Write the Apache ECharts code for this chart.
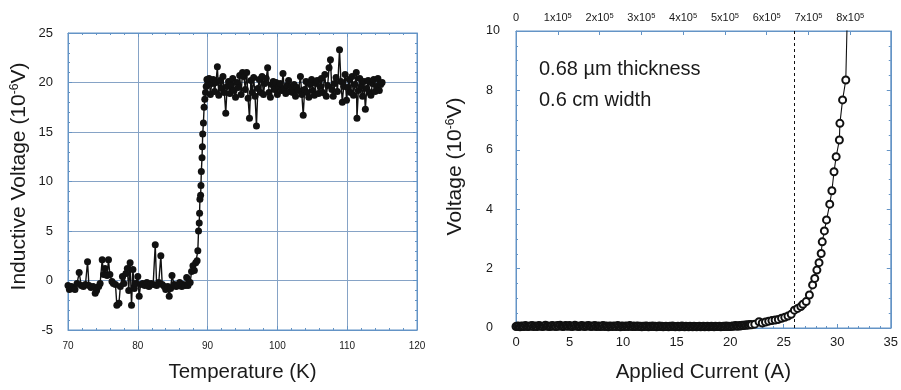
<!DOCTYPE html>
<html>
<head>
<meta charset="utf-8">
<script src="https://cdn.jsdelivr.net/npm/echarts@6/dist/echarts.min.js"></script>
<style>
  html, body { margin: 0; padding: 0; background: #fff; }
  #chart { width: 901px; height: 390px; }
</style>
</head>
<body>
<div id="chart"></div>
<script>
// left panel: inductive voltage vs temperature
const tempK = [
  70.0,70.2,70.5,70.8,71.0,71.3,71.6,71.9,72.2,72.5,
  72.8,73.0,73.3,73.6,73.9,74.1,74.4,74.6,74.9,75.1,
  75.3,75.6,75.8,76.0,76.3,76.5,76.8,77.0,77.3,77.5,
  77.8,78.0,78.3,78.5,78.7,78.9,79.1,79.3,79.5,79.7,
  80.0,80.2,80.4,80.7,81.0,81.3,81.6,81.9,82.2,82.5,
  82.7,83.0,83.3,83.5,83.8,84.0,84.3,84.5,84.7,84.9,
  85.2,85.5,85.8,86.0,86.3,86.5,86.8,87.0,87.2,87.5,
  87.7,87.9,88.1,88.3,88.5,88.6,88.7,88.8,88.85,88.9,
  89.0,89.05,89.1,89.2,89.25,89.3,89.4,89.5,89.6,89.7,
  89.8,89.9,
  90.0,90.2,90.4,90.6,90.8,91.0,91.2,91.4,91.6,91.8,
  92.0,92.2,92.4,92.6,92.8,93.0,93.2,93.4,93.6,93.8,
  94.0,94.2,94.4,94.6,94.8,95.0,95.2,95.4,95.6,95.8,
  96.0,96.2,96.4,96.6,96.8,97.0,97.2,97.4,97.6,97.8,
  98.0,98.2,98.4,98.6,98.8,99.0,99.2,99.4,99.6,99.8,
  100.0,100.2,100.4,100.6,100.8,101.0,101.2,101.4,101.6,101.8,
  102.0,102.2,102.4,102.6,102.8,103.0,103.3,103.5,103.7,103.9,
  104.1,104.3,104.5,104.7,104.9,105.1,105.3,105.5,105.7,105.9,
  106.1,106.3,106.5,106.8,107.0,107.2,107.4,107.6,107.8,108.0,
  108.2,108.4,108.6,108.9,109.1,109.3,109.5,109.7,109.9,110.1,
  110.3,110.5,110.7,110.9,111.1,111.3,111.4,111.6,111.8,112.0,
  112.2,112.4,112.6,112.8,113.0,113.2,113.4,113.6,113.8,114.0,
  114.2,114.4,114.6,114.8,115.0
];
const inductiveV = [
  -0.5,-0.9,-0.6,-0.8,-0.9,-0.3,0.8,-0.5,-0.6,-0.4,
  1.9,-0.5,-0.7,-0.6,-1.3,-1.0,-0.6,-0.3,2.1,0.6,
  1.2,0.5,2.1,0.6,-0.1,-0.3,-0.4,-2.5,-2.3,-0.6,
  0.4,-0.3,0.7,1.2,-1.0,1.8,-2.5,1.1,-0.8,-0.3,
  0.4,-1.6,-0.4,-0.3,-0.5,-0.2,-0.6,-0.3,-0.4,3.6,
  -0.5,-0.2,2.5,-0.4,-0.6,-0.9,-0.6,-1.6,-0.8,0.5,
  -0.4,-0.6,-0.5,-0.2,-0.6,-0.4,-0.5,0.3,-0.5,-0.2,
  0.9,1.5,1.0,1.8,2.0,3.0,5.0,5.8,6.8,8.2,
  8.6,9.6,11.0,12.4,13.5,14.8,15.9,17.5,18.3,19.0,
  19.6,20.3,
  19.8,20.4,18.8,19.9,20.3,19.1,20.0,21.6,18.7,20.2,
  19.4,20.6,19.0,16.9,19.6,20.1,18.9,19.7,20.4,19.2,
  18.5,20.0,19.5,20.7,18.8,21.0,20.6,19.3,21.0,18.4,
  16.4,20.2,19.0,20.5,18.6,15.6,19.4,20.3,19.0,20.6,
  18.8,19.9,20.4,21.5,19.0,18.5,19.8,20.1,19.3,20.0,
  18.8,19.6,19.9,19.2,20.9,19.4,18.9,19.7,20.2,19.1,
  19.6,19.0,19.8,18.6,19.5,19.2,20.6,18.8,16.7,19.3,
  20.1,19.0,18.5,19.8,20.3,19.2,18.7,19.9,20.2,18.9,
  19.6,20.4,19.0,20.8,18.6,19.7,21.5,22.3,19.3,18.6,
  19.9,20.5,19.1,23.3,20.1,18.0,19.6,20.8,18.2,19.5,
  20.3,19.0,20.6,18.7,19.8,21.0,16.4,19.2,20.4,19.6,
  18.6,20.1,17.3,19.4,20.2,19.0,18.7,19.9,20.3,19.1,
  19.6,20.4,19.2,19.8,20.0
];

// right panel: voltage vs applied current
const currentA = [
  0,0.125,0.25,0.375,0.5,0.625,0.75,0.875,
  1,1.125,1.25,1.375,1.5,1.625,1.75,1.875,
  2,2.125,2.25,2.375,2.5,2.625,2.75,2.875,
  3,3.125,3.25,3.375,3.5,3.625,3.75,3.875,
  4,4.125,4.25,4.375,4.5,4.625,4.75,4.875,
  5,5.125,5.25,5.375,5.5,5.625,5.75,5.875,
  6,6.125,6.25,6.375,6.5,6.625,6.75,6.875,
  7,7.125,7.25,7.375,7.5,7.625,7.75,7.875,
  8,8.125,8.25,8.375,8.5,8.625,8.75,8.875,
  9,9.125,9.25,9.375,9.5,9.625,9.75,9.875,
  10,10.125,10.25,10.375,10.5,10.625,10.75,10.875,
  11,11.125,11.25,11.375,11.5,11.625,11.75,11.875,
  12,12.125,12.25,12.375,12.5,12.625,12.75,12.875,
  13,13.125,13.25,13.375,13.5,13.625,13.75,13.875,
  14,14.125,14.25,14.375,14.5,14.625,14.75,14.875,
  15,15.125,15.25,15.375,15.5,15.625,15.75,15.875,
  16,16.125,16.25,16.375,16.5,16.625,16.75,16.875,
  17,17.125,17.25,17.375,17.5,17.625,17.75,17.875,
  18,18.125,18.25,18.375,18.5,18.625,18.75,18.875,
  19,19.125,19.25,19.375,19.5,19.625,19.75,19.875,
  20,20.125,20.25,20.375,20.5,20.625,20.75,20.875,
  21,21.125,21.25,21.375,21.5,21.625,21.75,21.875,
  22,22.3,
  22.7,23,23.3,23.6,23.9,24.2,24.5,24.8,25.1,25.4,
  25.7,26,26.3,26.6,26.8,27.1,27.4,27.7,27.9,28.1,
  28.3,28.5,28.6,28.8,29,29.3,29.5,29.7,29.9,30.2,
  30.25,30.5,30.8,31.0
];
const voltageV = [
  0.05,0.07,0.06,0.04,0.07,0.06,0.05,0.08,
  0.06,0.05,0.07,0.06,0.08,0.05,0.07,0.06,
  0.05,0.08,0.07,0.06,0.05,0.07,0.09,0.06,
  0.07,0.05,0.06,0.08,0.06,0.07,0.05,0.08,
  0.06,0.09,0.07,0.05,0.06,0.08,0.07,0.06,
  0.08,0.06,0.05,0.07,0.09,0.06,0.07,0.05,
  0.06,0.08,0.07,0.05,0.07,0.06,0.08,0.07,
  0.05,0.07,0.06,0.08,0.05,0.06,0.07,0.05,
  0.06,0.08,0.05,0.07,0.06,0.04,0.07,0.06,
  0.05,0.07,0.06,0.05,0.08,0.06,0.04,0.07,
  0.06,0.05,0.07,0.06,0.05,0.08,0.06,0.05,
  0.07,0.05,0.06,0.07,0.05,0.06,0.04,0.06,
  0.05,0.07,0.06,0.04,0.06,0.05,0.07,0.05,
  0.06,0.04,0.05,0.07,0.05,0.06,0.04,0.05,
  0.06,0.05,0.04,0.06,0.05,0.07,0.05,0.04,
  0.05,0.06,0.04,0.05,0.07,0.05,0.04,0.06,
  0.05,0.04,0.06,0.05,0.04,0.06,0.05,0.04,
  0.05,0.06,0.04,0.05,0.06,0.04,0.05,0.06,
  0.04,0.05,0.06,0.05,0.04,0.06,0.05,0.05,
  0.06,0.04,0.05,0.06,0.05,0.07,0.05,0.06,
  0.05,0.06,0.07,0.06,0.08,0.07,0.06,0.08,
  0.07,0.09,0.08,0.1,0.09,0.11,0.1,0.12,
  0.11,0.13,
  0.21,0.17,0.2,0.23,0.25,0.27,0.29,0.33,0.36,0.4,
  0.46,0.6,0.66,0.72,0.8,0.89,1.11,1.45,1.67,1.95,
  2.2,2.51,2.9,3.27,3.64,4.17,4.62,5.26,5.77,6.33,
  6.89,7.68,8.35,11.5
];
const criticalCurrent = 26;
const densityMax = 897000; // A/cm^2 at 35 A
const notes = ["0.68 µm thickness", "0.6 cm width"];

const FONT = "Liberation Sans";
const BLUE = "#6494c6";
const GRIDC = "#86a3c6";
const INK = "#1a1a1a";

function pairs(xs, ys) {
  return xs.map((x, i) => [x, ys[i]]);
}

// extra axes on the opposite edges, ticks only
const tickOnly = (extra) => Object.assign({
  axisLine: { show: true, onZero: false, lineStyle: { color: BLUE } },
  axisTick: { show: true, inside: true, length: 4, lineStyle: { color: BLUE } },
  minorTick: { show: true, splitNumber: 5, length: 2, lineStyle: { color: BLUE } },
  axisLabel: { show: false },
  splitLine: { show: false }
}, extra);

const supStyle = { fontSize: 12, verticalAlign: "top", color: INK, fontFamily: FONT };

const chart = echarts.init(document.getElementById("chart"));

chart.setOption({
  animation: false,
  backgroundColor: "#fff",
  textStyle: { fontFamily: FONT },
  grid: [
    { left: 68, top: 33, width: 349, height: 297, show: true, borderColor: BLUE, borderWidth: 1 },
    { left: 516, top: 31, width: 376, height: 297, show: true, borderColor: BLUE, borderWidth: 1 }
  ],
  xAxis: [
    {
      gridIndex: 0, type: "value", min: 70, max: 120, interval: 10,
      name: "Temperature (K)", nameLocation: "middle", nameGap: 32,
      nameTextStyle: { fontSize: 20.5, color: INK, fontFamily: FONT },
      axisLine: { onZero: false, lineStyle: { color: BLUE } },
      axisTick: { inside: true, length: 4, lineStyle: { color: BLUE } },
      minorTick: { show: true, splitNumber: 5, length: 2, lineStyle: { color: BLUE } },
      axisLabel: { fontSize: 10, color: INK, margin: 11 },
      splitLine: { show: true, lineStyle: { color: GRIDC, width: 1 } }
    },
    tickOnly({ gridIndex: 0, type: "value", min: 70, max: 120, interval: 10, position: "top" }),
    {
      gridIndex: 1, type: "value", min: 0, max: 35, interval: 5,
      name: "Applied Current (A)", nameLocation: "middle", nameGap: 34,
      nameTextStyle: { fontSize: 20.5, color: INK, fontFamily: FONT },
      axisLine: { onZero: false, lineStyle: { color: BLUE } },
      axisTick: { inside: true, length: 4, lineStyle: { color: BLUE } },
      minorTick: { show: true, splitNumber: 5, length: 2, lineStyle: { color: BLUE } },
      axisLabel: { fontSize: 13, color: INK, margin: 8 },
      splitLine: { show: false }
    },
    {
      gridIndex: 1, type: "value", min: 0, max: densityMax, interval: 100000, position: "top",
      axisLine: { onZero: false, lineStyle: { color: BLUE } },
      axisTick: { inside: true, length: 4, lineStyle: { color: BLUE } },
      splitLine: { show: false },
      axisLabel: {
        show: true, showMaxLabel: false, margin: 8, color: INK, fontSize: 11,
        formatter: (v) => {
          if (v === 0) return "0";
          if (v % 100000 !== 0) return "";
          return (v / 100000) + "x10{s|5}";
        },
        rich: { s: { fontSize: 7.5, verticalAlign: "top", color: INK } }
      }
    }
  ],
  yAxis: [
    {
      gridIndex: 0, type: "value", min: -5, max: 25, interval: 5,
      name: "Inductive Voltage (10{s|-6}V)", nameLocation: "middle", nameGap: 38,
      nameTextStyle: {
        fontSize: 21, color: INK, fontFamily: FONT, padding: [0, 0, 0, 10],
        rich: { s: supStyle }
      },
      axisLine: { show: true, onZero: false, lineStyle: { color: BLUE } },
      axisTick: { show: true, inside: true, length: 4, lineStyle: { color: BLUE } },
      minorTick: { show: true, splitNumber: 5, length: 2, lineStyle: { color: BLUE } },
      axisLabel: { fontSize: 13, color: INK, margin: 15 },
      splitLine: { show: true, lineStyle: { color: GRIDC, width: 1 } }
    },
    tickOnly({ gridIndex: 0, type: "value", min: -5, max: 25, interval: 5, position: "right" }),
    {
      gridIndex: 1, type: "value", min: 0, max: 10, interval: 2,
      name: "Voltage (10{s|-6}V)", nameLocation: "middle", nameGap: 50,
      nameTextStyle: {
        fontSize: 21, color: INK, fontFamily: FONT, padding: [0, 0, 0, 26],
        rich: { s: supStyle }
      },
      axisLine: { show: true, onZero: false, lineStyle: { color: BLUE } },
      axisTick: { show: true, inside: true, length: 4, lineStyle: { color: BLUE } },
      minorTick: { show: true, splitNumber: 4, length: 2, lineStyle: { color: BLUE } },
      axisLabel: { fontSize: 12.5, color: INK, margin: 30, align: "left" },
      splitLine: { show: false }
    },
    tickOnly({
      gridIndex: 1, type: "value", min: 0, max: 10, interval: 2, position: "right",
      minorTick: { show: true, splitNumber: 4, length: 2, lineStyle: { color: BLUE } }
    })
  ],
  graphic: notes.map((t, i) => ({
    type: "text", left: 539, top: 59 + i * 31,
    style: { text: t, fontSize: 20, fill: INK, fontFamily: FONT }
  })),
  series: [
    {
      type: "line", xAxisIndex: 0, yAxisIndex: 0,
      data: pairs(tempK, inductiveV),
      symbol: "circle", symbolSize: 7,
      itemStyle: { color: "#111" },
      lineStyle: { color: "#111", width: 1.4 }
    },
    {
      type: "line", xAxisIndex: 2, yAxisIndex: 2,
      data: pairs(currentA, voltageV),
      symbol: "emptyCircle", symbolSize: 7,
      itemStyle: { color: "#111", borderWidth: 1.5 },
      lineStyle: { color: "#111", width: 1.1 },
      markLine: {
        silent: true, symbol: "none", label: { show: false },
        lineStyle: { color: "#111", type: [3, 3], width: 1 },
        data: [{ xAxis: criticalCurrent }]
      }
    }
  ]
});
</script>
</body>
</html>
